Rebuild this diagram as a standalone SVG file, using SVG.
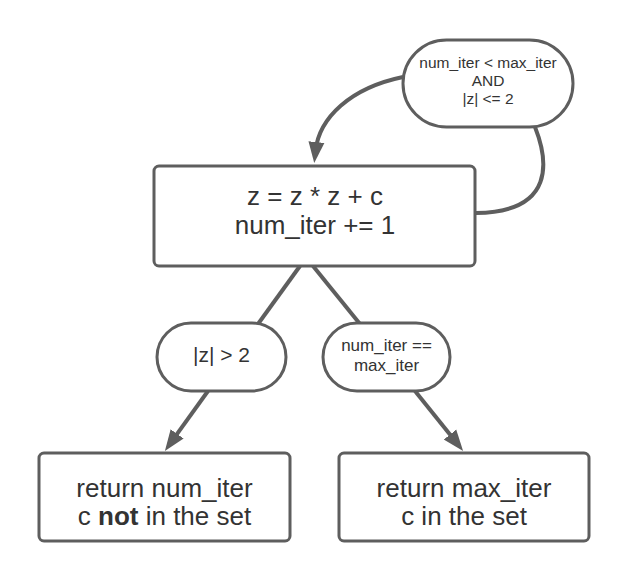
<svg xmlns="http://www.w3.org/2000/svg" width="628" height="580" viewBox="0 0 628 580">
<style>
.shape{fill:#ffffff;stroke:#5e5e5e;stroke-width:3}
.conn{fill:none;stroke:#5e5e5e;stroke-width:4}
text{font-family:"Liberation Sans",Arial,sans-serif;fill:#333333;text-anchor:middle}
.big{font-size:26px}
.mid{font-size:21px}
.sm{font-size:17px}
.xs{font-size:15.5px}
</style>
<defs>
<marker id="arr" markerUnits="userSpaceOnUse" markerWidth="24" markerHeight="20" refX="9" refY="10" orient="auto">
<path d="M0,2 L21,10 L0,18 Z" fill="#5e5e5e"/>
</marker>
</defs>
<rect width="628" height="580" fill="#ffffff"/>
<g id="connectors">
<path class="conn" d="M403,77 C350,88 319,118 315.5,151" marker-end="url(#arr)"/>
<path class="conn" d="M535,127 C548,160 556,212 476,213"/>
<path class="conn" d="M300,266 L258,324"/>
<path class="conn" d="M313,266 L360,324"/>
<path class="conn" d="M208,391 L171.9,441.2" marker-end="url(#arr)"/>
<path class="conn" d="M415,391 L455.6,441.6" marker-end="url(#arr)"/>
</g>
<g id="loop-cond">
<rect class="shape" x="403" y="40" width="170" height="87" rx="43.5"/>
<text class="xs" x="488" y="68">num_iter &lt; max_iter</text>
<text class="xs" x="488" y="86">AND</text>
<text class="xs" x="488" y="104">|z| &lt;= 2</text>
</g>
<g id="iterate">
<rect class="shape" x="154" y="166" width="321" height="100" rx="5"/>
<text class="big" x="315" y="205">z = z * z + c</text>
<text class="big" x="315" y="234">num_iter += 1</text>
</g>
<g id="escape-cond">
<rect class="shape" x="157" y="323" width="129" height="68" rx="34"/>
<text class="mid" x="221.5" y="362">|z| &gt; 2</text>
</g>
<g id="max-cond">
<rect class="shape" x="323" y="323" width="127" height="68" rx="34"/>
<text class="sm" x="386.5" y="351">num_iter ==</text>
<text class="sm" x="386.5" y="371">max_iter</text>
</g>
<g id="not-in-set">
<rect class="shape" x="39" y="453" width="251" height="88" rx="5"/>
<text class="big" x="164.5" y="497">return num_iter</text>
<text class="big" x="164.5" y="525">c <tspan font-weight="bold">not</tspan> in the set</text>
</g>
<g id="in-set">
<rect class="shape" x="339" y="453" width="250" height="88" rx="5"/>
<text class="big" x="464" y="497">return max_iter</text>
<text class="big" x="464" y="525">c in the set</text>
</g>
</svg>
